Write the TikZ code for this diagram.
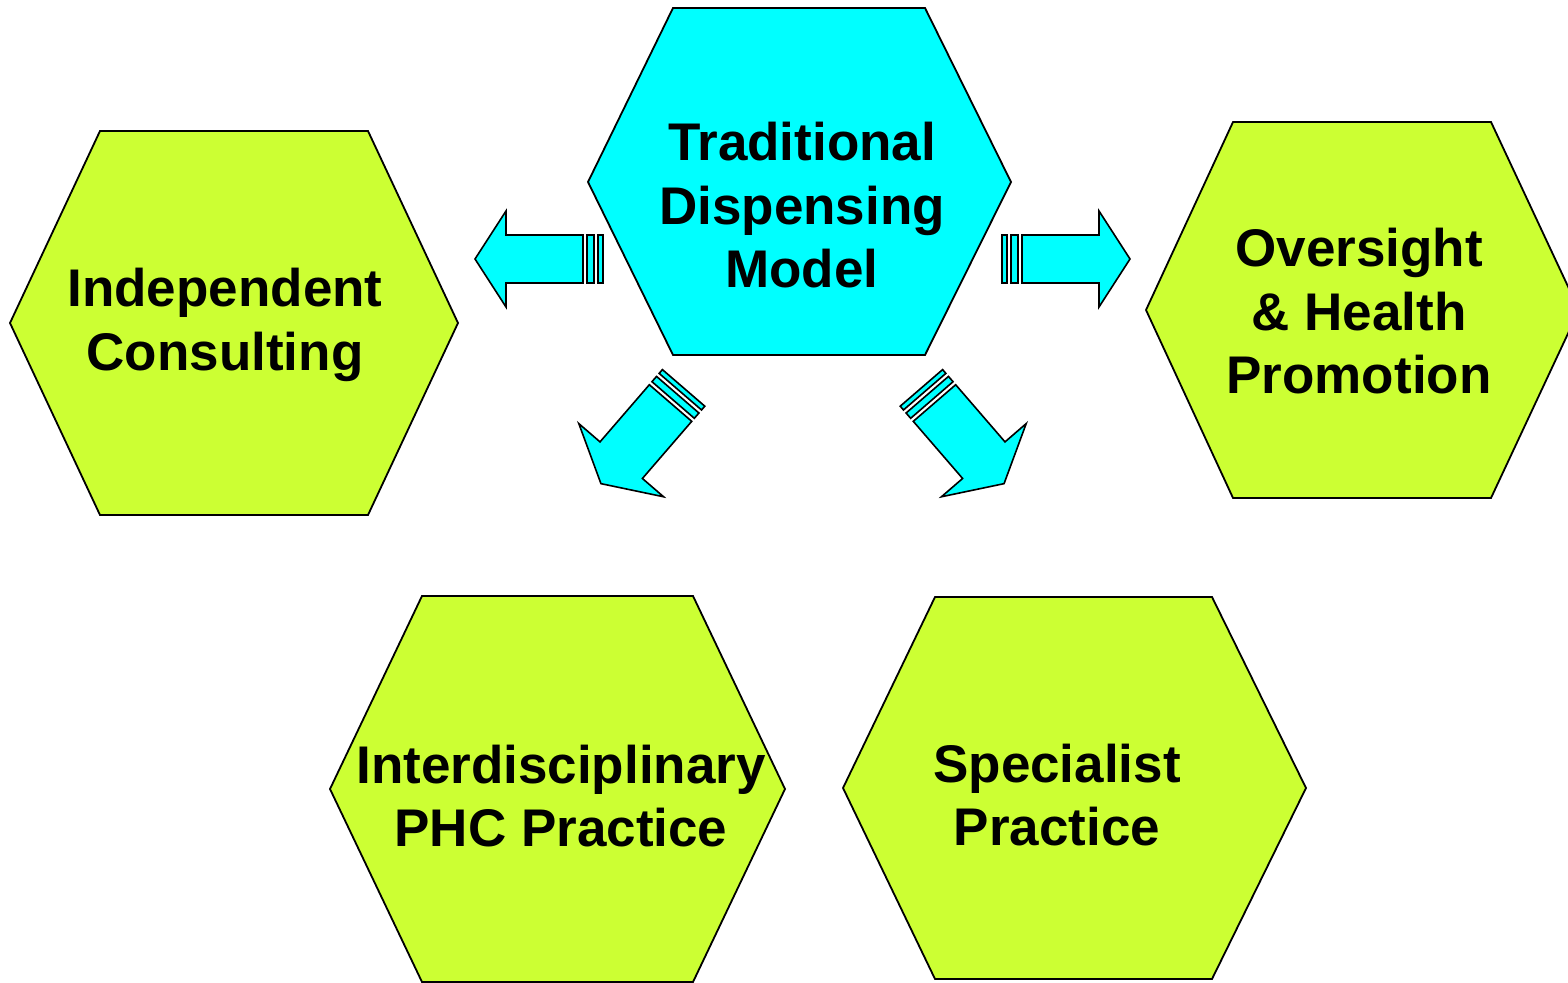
\documentclass[tikz,border=0pt]{standalone}
\usepackage{fontspec}
\setmainfont{Liberation Sans}
\definecolor{hexgreen}{HTML}{CCFF33}
\definecolor{hexcyan}{HTML}{00FFFF}
\newcommand{\dispArrow}[5]{%
  \begin{scope}[shift={#1}, rotate=#2]
    \draw[arr] (0,-#4) rectangle (5,#4);
    \draw[arr] (9,-#4) rectangle (16,#4);
    \draw[arr] (20,-#4) -- ({20+#3},-#4) -- ({20+#3},-#5) -- ({51+#3},0)
      -- ({20+#3},#5) -- ({20+#3},#4) -- (20,#4) -- cycle;
  \end{scope}}
\newcommand{\hexlabel}[1]{\begin{tabular}[t]{@{}c@{}}#1\end{tabular}}
\begin{document}
\begin{tikzpicture}[x=0.5pt,y=-0.5pt,
  hexg/.style={draw=black, line width=0.9pt, fill=hexgreen, line join=miter},
  hexc/.style={draw=black, line width=0.9pt, fill=hexcyan, line join=miter},
  arr/.style={draw=black, line width=0.8pt, fill=hexcyan, line join=miter},
  lbl/.style={anchor=base, inner sep=0pt, align=center,
    font=\fontsize{26.5pt}{31.7pt}\selectfont\bfseries}]
\useasboundingbox (0,0) rectangle (1568,983);
\clip (0,0) rectangle (1568,983);
% hexagons
\draw[hexc] (673,8) -- (925,8) -- (1011,182) -- (925,355) -- (673,355) -- (588,182) -- cycle;
\draw[hexg] (100,131) -- (368,131) -- (458,323) -- (368,515) -- (100,515) -- (10,323) -- cycle;
\draw[hexg] (1233,122) -- (1491,122) -- (1579,310) -- (1491,498) -- (1233,498) -- (1146,310) -- cycle;
\draw[hexg] (422,596) -- (693,596) -- (785,789) -- (693,982) -- (422,982) -- (330,789) -- cycle;
\draw[hexg] (935,597) -- (1212,597) -- (1306,788) -- (1212,979) -- (935,979) -- (843,788) -- cycle;
% labels
\node[lbl] (trad) at (802,161) {\hexlabel{Traditional\\Dispensing\\Model}};
\node[lbl] (indep) at (225,307) {\hexlabel{Independent\\Consulting}};
\node[lbl] (overs) at (1359,267) {\hexlabel{Oversight\\\& Health\\Promotion}};
\node[lbl] (inter) at (561,783) {\hexlabel{Interdisciplinary\\PHC Practice}};
\node[lbl] (spec) at (1057,782) {\hexlabel{Specialist\\Practice}};
% block arrows
\dispArrow{(603,259)}{180}{77}{24}{48}
\dispArrow{(1002,259)}{0}{77}{24}{48}
\dispArrow{(683.6,387.9)}{229.2}{75.5}{28}{56}
\dispArrow{(921.4,387.9)}{-49.2}{75.5}{28}{56}
\end{tikzpicture}
\end{document}
